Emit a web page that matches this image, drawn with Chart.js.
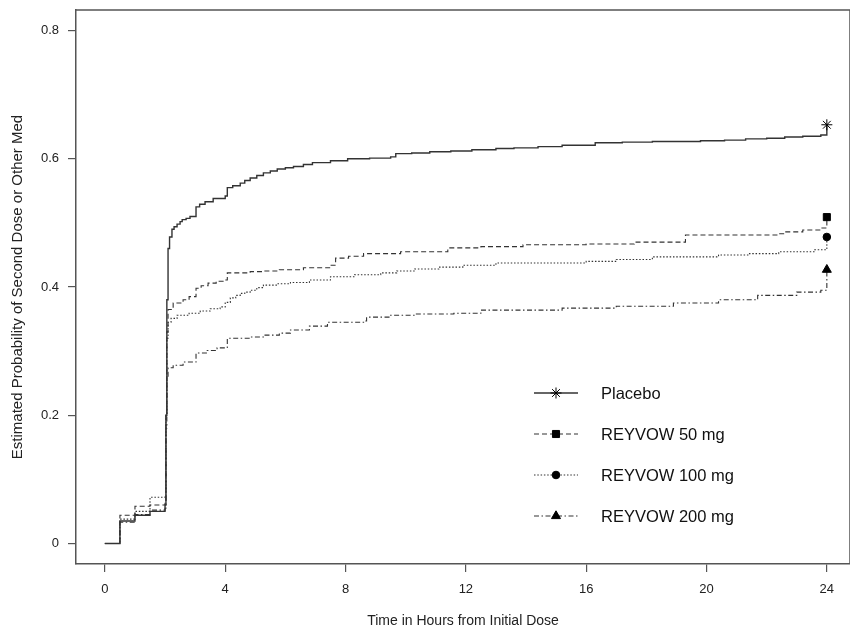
<!DOCTYPE html>
<html>
<head>
<meta charset="utf-8">
<title>Estimated Probability of Second Dose or Other Med</title>
<script src="https://cdn.jsdelivr.net/npm/chart.js@4.4.0/dist/chart.umd.min.js"></script>
<style>
  html, body { margin: 0; padding: 0; background: #fff; }
  #km { display: block; }
</style>
</head>
<body>
<canvas id="km" width="850" height="630"></canvas>
<script>
// values (step curves, last point = end marker)
const seriesNames = ["Placebo", "REYVOW 50 mg", "REYVOW 100 mg", "REYVOW 200 mg"];

const placeboHours = [0, 0.5, 1.0, 1.5, 2.0, 2.03, 2.06, 2.1, 2.15, 2.23, 2.3, 2.4, 2.5, 2.57, 2.7, 2.83, 3.03, 3.15, 3.33, 3.6, 4.0, 4.07, 4.25, 4.5, 4.65, 4.83, 5.05, 5.27, 5.5, 5.73, 6.0, 6.27, 6.6, 6.9, 7.5, 8.07, 8.8, 9.5, 9.67, 10.2, 10.8, 11.5, 12.2, 13.0, 13.6, 14.4, 15.2, 16.3, 17.2, 18.2, 19.8, 20.6, 21.3, 22.0, 22.6, 23.2, 23.8, 24];
const placeboProb  = [0, 0.035, 0.044, 0.05, 0.06, 0.2, 0.38, 0.46, 0.478, 0.49, 0.494, 0.498, 0.502, 0.505, 0.507, 0.51, 0.525, 0.529, 0.533, 0.538, 0.542, 0.555, 0.558, 0.562, 0.566, 0.57, 0.574, 0.578, 0.581, 0.584, 0.586, 0.588, 0.591, 0.594, 0.597, 0.6, 0.601, 0.603, 0.608, 0.609, 0.611, 0.612, 0.614, 0.616, 0.617, 0.619, 0.621, 0.625, 0.626, 0.627, 0.628, 0.629, 0.631, 0.632, 0.634, 0.635, 0.637, 0.653];

const dose50Hours = [0, 0.5, 1.0, 1.5, 2.0, 2.03, 2.06, 2.1, 2.27, 2.6, 2.8, 3.03, 3.2, 3.43, 3.7, 3.97, 4.07, 4.83, 5.3, 5.8, 6.6, 7.5, 7.67, 8.1, 8.6, 9.83, 11.4, 12.5, 13.9, 16.0, 17.6, 19.3, 22.4, 22.6, 23.2, 23.8, 24];
const dose50Prob  = [0, 0.044, 0.058, 0.06, 0.065, 0.2, 0.33, 0.365, 0.375, 0.38, 0.385, 0.398, 0.402, 0.406, 0.409, 0.411, 0.422, 0.424, 0.425, 0.427, 0.43, 0.434, 0.445, 0.448, 0.452, 0.455, 0.461, 0.463, 0.466, 0.467, 0.47, 0.481, 0.483, 0.486, 0.489, 0.492, 0.509];

const dose100Hours = [0, 0.5, 1.0, 1.5, 2.0, 2.03, 2.06, 2.1, 2.2, 2.4, 2.8, 3.17, 3.5, 3.83, 4.0, 4.17, 4.35, 4.5, 4.65, 4.83, 5.05, 5.27, 5.7, 6.17, 6.8, 7.5, 8.3, 9.17, 9.7, 10.3, 11.1, 11.9, 13.0, 16.0, 17.0, 18.2, 20.4, 21.4, 22.4, 23.6, 24];
const dose100Prob  = [0, 0.038, 0.05, 0.072, 0.075, 0.2, 0.32, 0.345, 0.351, 0.356, 0.359, 0.3625, 0.366, 0.369, 0.376, 0.383, 0.387, 0.39, 0.392, 0.395, 0.399, 0.403, 0.405, 0.407, 0.411, 0.416, 0.419, 0.422, 0.425, 0.428, 0.431, 0.434, 0.4375, 0.44, 0.443, 0.447, 0.45, 0.452, 0.455, 0.458, 0.478];

const dose200Hours = [0, 0.5, 1.0, 1.5, 2.0, 2.03, 2.06, 2.1, 2.27, 2.6, 3.03, 3.4, 3.73, 4.07, 4.83, 5.3, 5.8, 6.17, 6.8, 7.4, 8.6, 8.7, 9.5, 10.3, 11.6, 12.5, 15.2, 17.0, 18.9, 20.4, 21.7, 23.0, 23.8, 24];
const dose200Prob  = [0, 0.033, 0.045, 0.052, 0.055, 0.18, 0.26, 0.274, 0.278, 0.283, 0.297, 0.301, 0.305, 0.32, 0.322, 0.325, 0.328, 0.333, 0.339, 0.345, 0.347, 0.353, 0.356, 0.358, 0.359, 0.364, 0.367, 0.37, 0.375, 0.38, 0.387, 0.392, 0.395, 0.427];

const xTicks = [0, 4, 8, 12, 16, 20, 24];
const yTicks = [0, 0.2, 0.4, 0.6, 0.8];
const xTitle = "Time in Hours from Initial Dose";
const yTitle = "Estimated Probability of Second Dose or Other Med";

const FONT = "'Liberation Sans', Arial, Helvetica, sans-serif";
const INK = "#333";

const lineStyles = [
  { dash: [], width: 1.4, marker: "star", radius: 5.5 },
  { dash: [5, 3], width: 1.1, marker: "rect", radius: 5 },
  { dash: [1.5, 1.8], width: 1.1, marker: "circle", radius: 3.8 },
  { dash: [5, 2.5, 1.5, 2.5], width: 1.1, marker: "triangle", radius: 5.2 }
];

const seriesHours = [placeboHours, dose50Hours, dose100Hours, dose200Hours];
const seriesProb = [placeboProb, dose50Prob, dose100Prob, dose200Prob];

const datasets = seriesNames.map((name, i) => {
  const st = lineStyles[i];
  const pts = seriesHours[i].map((h, k) => ({ x: h, y: seriesProb[i][k] }));
  return {
    label: name,
    data: pts,
    stepped: true,
    borderColor: INK,
    borderWidth: st.width,
    borderDash: st.dash,
    fill: false,
    pointStyle: st.marker,
    markerRadius: st.radius,
    pointRadius: ctx => (ctx.dataIndex === pts.length - 1 ? st.radius : 0),
    pointHoverRadius: 0,
    pointBackgroundColor: "#000",
    pointBorderColor: "#000",
    pointBorderWidth: 1
  };
});

// box line on top / right side (R style frame)
const frame = {
  id: "frame",
  afterDraw(chart) {
    const { ctx, chartArea: a } = chart;
    ctx.save();
    ctx.strokeStyle = "#555";
    ctx.lineWidth = 1.5;
    ctx.beginPath();
    ctx.moveTo(a.left, a.top);
    ctx.lineTo(a.right, a.top);
    ctx.lineTo(a.right, a.bottom);
    ctx.stroke();
    ctx.restore();
  }
};

// legend with line sample + marker, placed inside the plot
const kmLegend = {
  id: "kmLegend",
  afterDatasetsDraw(chart, args, opts) {
    const ctx = chart.ctx;
    chart.data.datasets.forEach((ds, i) => {
      const y = opts.top + i * opts.rowGap;
      ctx.save();
      ctx.strokeStyle = ds.borderColor;
      ctx.lineWidth = ds.borderWidth;
      ctx.setLineDash(ds.borderDash);
      ctx.beginPath();
      ctx.moveTo(opts.left, y);
      ctx.lineTo(opts.left + opts.lineLen, y);
      ctx.stroke();
      ctx.setLineDash([]);
      ctx.fillStyle = "#000";
      ctx.strokeStyle = "#000";
      ctx.lineWidth = 1;
      Chart.helpers.drawPoint(ctx, { pointStyle: ds.pointStyle, radius: ds.markerRadius, rotation: 0, borderWidth: 1 },
        opts.left + opts.lineLen / 2, y);
      ctx.fillStyle = "#111";
      ctx.font = "16.5px " + FONT;
      ctx.textBaseline = "middle";
      ctx.textAlign = "left";
      ctx.fillText(ds.label, opts.textX, y + 1);
      ctx.restore();
    });
  }
};

new Chart(document.getElementById("km"), {
  type: "line",
  data: { datasets },
  plugins: [frame, kmLegend],
  options: {
    responsive: false,
    animation: false,
    events: [],
    layout: { autoPadding: false, padding: { top: 10, right: 0, bottom: 0, left: 0 } },
    plugins: {
      legend: { display: false },
      tooltip: { enabled: false },
      kmLegend: { left: 534, lineLen: 44, textX: 601, top: 393, rowGap: 41 }
    },
    scales: {
      x: {
        type: "linear",
        min: -0.96,
        max: 24.77,
        afterBuildTicks: axis => { axis.ticks = xTicks.map(v => ({ value: v })); },
        afterFit: scale => { scale.height = 66; scale.paddingLeft = 0; scale.paddingRight = 0; },
        ticks: { color: "#222", padding: 10, maxRotation: 0, font: { family: FONT, size: 13 }, callback: v => String(v) },
        grid: { drawOnChartArea: false, drawTicks: true, tickLength: 8, color: "#555", lineWidth: 1.2 },
        border: { display: true, color: "#555", width: 1.5 },
        title: { display: true, text: xTitle, color: "#222", padding: { top: 0, bottom: 0 }, font: { family: FONT, size: 14 } }
      },
      y: {
        type: "linear",
        min: -0.032,
        max: 0.832,
        afterBuildTicks: axis => { axis.ticks = yTicks.map(v => ({ value: v })); },
        afterFit: scale => { scale.width = 76; scale.paddingTop = 0; scale.paddingBottom = 0; },
        ticks: { color: "#222", padding: 9, font: { family: FONT, size: 13 }, callback: v => String(Math.round(v * 10) / 10) },
        grid: { drawOnChartArea: false, drawTicks: true, tickLength: 8, color: "#555", lineWidth: 1.2 },
        border: { display: true, color: "#555", width: 1.5 },
        title: { display: true, text: yTitle, color: "#222", padding: { top: 9, bottom: 0 }, font: { family: FONT, size: 15 } }
      }
    }
  }
});
</script>
</body>
</html>
